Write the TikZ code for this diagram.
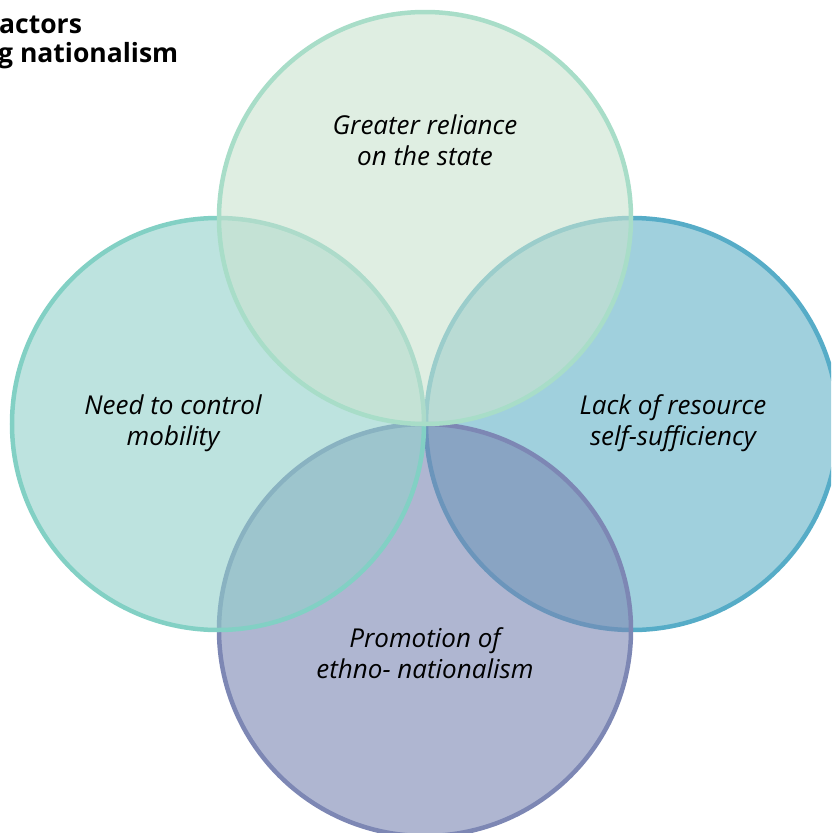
\documentclass[tikz,border=0pt]{standalone}
\usepackage{fontspec}
\setmainfont{Open Sans}
\definecolor{topfill}{RGB}{202,227,207}
\definecolor{topline}{RGB}{168,221,200}
\definecolor{leftfill}{RGB}{145,208,202}
\definecolor{leftline}{RGB}{130,208,196}
\definecolor{rightfill}{RGB}{97,177,198}
\definecolor{rightline}{RGB}{86,172,199}
\definecolor{botfill}{RGB}{121,134,179}
\definecolor{botline}{RGB}{125,135,180}
\begin{document}
\begin{tikzpicture}[x=1pt,y=-1pt,
  venn/.style={line width=4.5pt, fill opacity=0.6},
  lbl/.style={font=\fontsize{26}{31.5}\selectfont\itshape, align=center, inner sep=0pt, text=black},
  ttl/.style={font=\fontsize{26.5}{29}\selectfont\bfseries, align=left, inner sep=0pt, anchor=base west}]
\useasboundingbox (0,0) rectangle (831,833);
\begin{scope}
\clip (0,0) rectangle (831,833);
\draw[venn, draw=rightline, fill=rightfill] (632,424) circle (206);
\draw[venn, draw=botline, fill=botfill] (425,630) circle (206);
\draw[venn, draw=leftline, fill=leftfill] (218,424) circle (206);
\draw[venn, draw=topline, fill=topfill] (425,218) circle (206);
\node[ttl] (t1) at (-1,33) {actors};
\node[ttl] (t2) at (-2,62) {g nationalism};
\end{scope}
\node[lbl] (a) at (425,140) {Greater reliance\\on the state};
\node[lbl] (b) at (173,423) {Need to control\\mobility};
\node[lbl] (c) at (673,423) {Lack of resource\\self-sufficiency};
\node[lbl] (d) at (425,653) {Promotion of\\ethno- nationalism};
\end{tikzpicture}
\end{document}
